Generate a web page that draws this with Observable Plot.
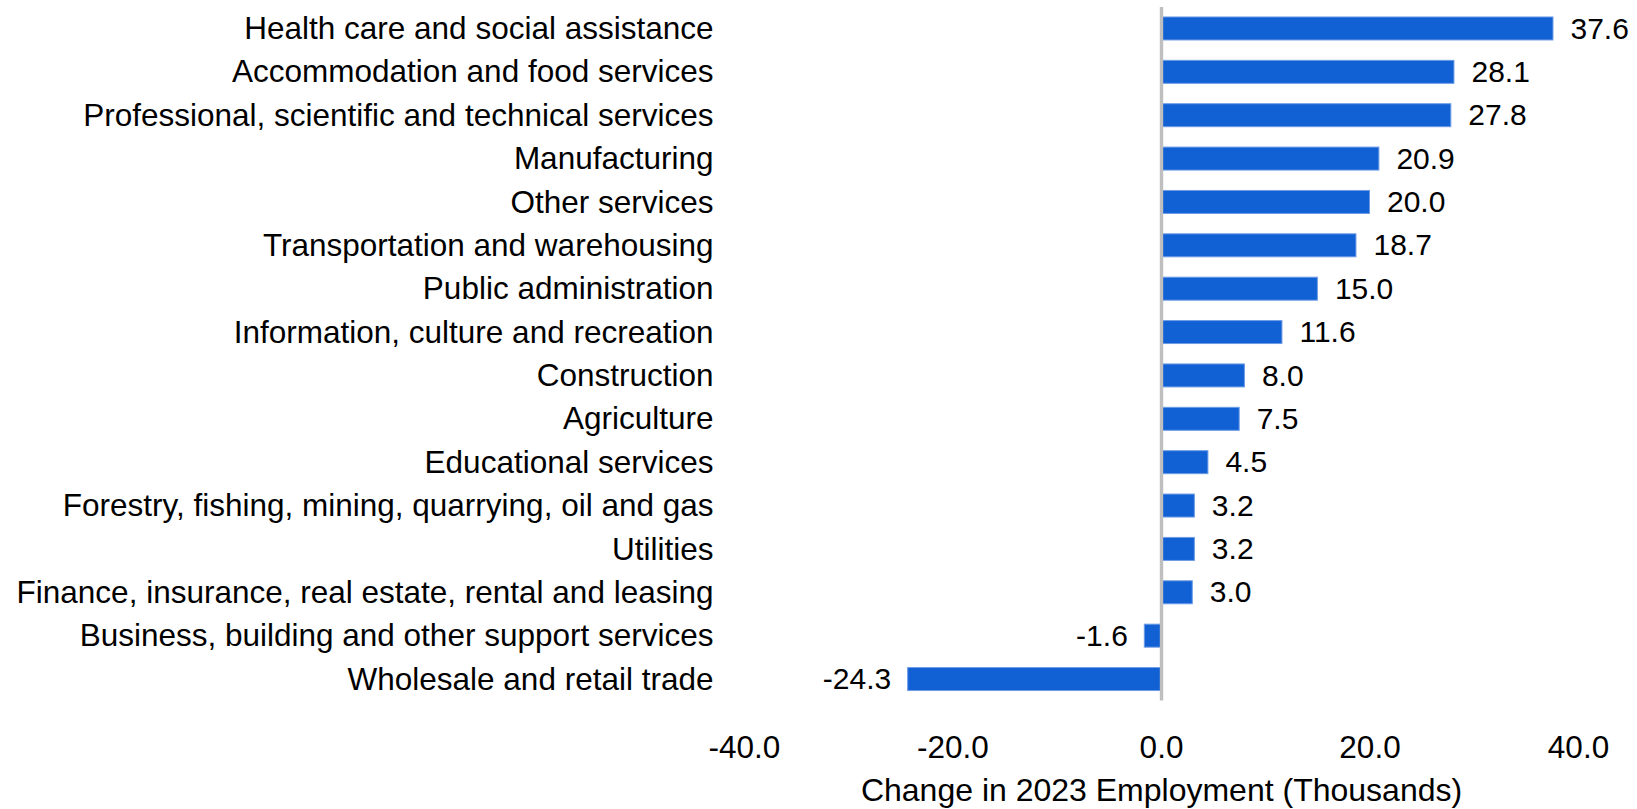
<!DOCTYPE html>
<html>
<head>
<meta charset="utf-8">
<script src="https://cdn.jsdelivr.net/npm/d3@7"></script>
<script src="https://cdn.jsdelivr.net/npm/@observablehq/plot@0.6"></script>
<style>
  html, body { margin: 0; padding: 0; background: #fff; }
  #chart svg { display: block; }
</style>
</head>
<body>
<div id="chart"></div>
<script>
const industries = [
  "Health care and social assistance",
  "Accommodation and food services",
  "Professional, scientific and technical services",
  "Manufacturing",
  "Other services",
  "Transportation and warehousing",
  "Public administration",
  "Information, culture and recreation",
  "Construction",
  "Agriculture",
  "Educational services",
  "Forestry, fishing, mining, quarrying, oil and gas",
  "Utilities",
  "Finance, insurance, real estate, rental and leasing",
  "Business, building and other support services",
  "Wholesale and retail trade"
];
const changes = [37.6, 28.1, 27.8, 20.9, 20.0, 18.7, 15.0, 11.6, 8.0, 7.5, 4.5, 3.2, 3.2, 3.0, -1.6, -24.3];
const xTicks = [-40, -20, 0, 20, 40];
const xTitle = "Change in 2023 Employment (Thousands)";

const data = industries.map((name, i) => ({name, value: changes[i]}));

const chart = Plot.plot({
  width: 1637,
  height: 809,
  marginLeft: 744,
  marginRight: 59,
  marginTop: 7,
  marginBottom: 108.5,
  style: {fontFamily: "'Liberation Sans', Arial, sans-serif", color: "#000", background: "#fff"},
  x: {domain: [-40, 40]},
  y: {domain: industries, paddingInner: 0.47, paddingOuter: 0.23, round: false},
  marks: [
    Plot.barX(data, {x: "value", y: "name", fill: "#1160d4", stroke: "#6d9be6", strokeWidth: 1}),
    Plot.ruleX([0], {stroke: "#bfbfbf", strokeWidth: 3.4}),
    Plot.text(data.filter(d => d.value >= 0), {x: "value", y: "name", text: d => d.value.toFixed(1), textAnchor: "start", dx: 17, fontSize: 30, fill: "#000"}),
    Plot.text(data.filter(d => d.value < 0), {x: "value", y: "name", text: d => d.value.toFixed(1), textAnchor: "end", dx: -17, fontSize: 30, fill: "#000"}),
    Plot.axisY({tickSize: 0, tickPadding: 31, fontSize: 31.5, label: null}),
    Plot.axisX({ticks: xTicks, tickFormat: d => d.toFixed(1), tickSize: 0, tickPadding: 35, fontSize: 31.5, label: null}),
    Plot.axisX({ticks: [], tickSize: 0, fontSize: 32,
      label: xTitle, labelAnchor: "center", labelArrow: "none", labelOffset: 100})
  ]
});
document.getElementById("chart").appendChild(chart);
</script>
</body>
</html>
